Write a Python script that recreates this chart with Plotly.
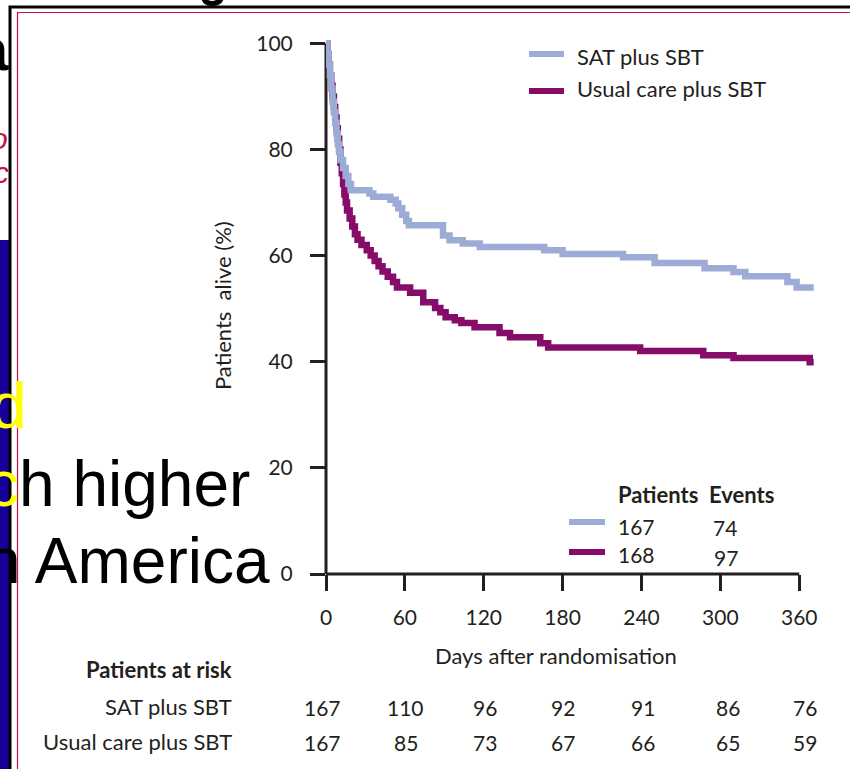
import plotly.graph_objects as go

# ---------------- data ----------------
sat_days = [0, 1, 2, 3, 4, 5, 6, 7, 8, 9, 10, 11, 13, 15, 17, 19, 33, 36, 49, 53, 55, 58, 61, 63,
            89, 94, 104, 117, 166, 180, 226, 250, 288, 310, 319, 351, 358, 371]
sat_surv = [100, 98, 96, 94, 91.5, 89, 87, 85, 83, 81, 79.5, 78, 76.5, 75, 73.5, 72.3, 71.7, 71.1, 70.5, 69.8, 68.9, 67.7, 66.5, 65.7,
            63.8, 62.9, 62.3, 61.6, 61.0, 60.3, 59.7, 58.6, 57.6, 56.9, 56.1, 55.0, 54.0, 54.0]

uc_days = [0, 1, 2, 3, 4, 5, 6, 7, 8, 9, 10, 11, 12, 13, 14, 15, 16, 18, 20, 22, 24, 27, 31, 34, 37, 40, 43, 47, 51, 54,
           64, 74, 83, 87, 91, 98, 103, 113, 132, 140, 163, 169, 239, 287, 310, 368, 371]
uc_surv = [100, 98, 96, 94, 92, 90, 88, 86, 84, 82, 80, 77.5, 75.5, 73.5, 71.5, 70, 68.5, 67, 65.5, 64, 63, 62, 61, 60, 59, 58, 57, 56, 55, 54,
           53, 51.2, 50.1, 49.3, 48.4, 47.8, 47.3, 46.5, 45.4, 44.6, 43.5, 42.7, 42.0, 41.2, 40.7, 39.9, 39.9]

x_ticks = [0, 60, 120, 180, 240, 300, 360]
y_ticks = [0, 20, 40, 60, 80, 100]

series_names = ["SAT plus SBT", "Usual care plus SBT"]
n_patients = [167, 168]
n_events = [74, 97]
at_risk_sat = [167, 110, 96, 92, 91, 86, 76]
at_risk_uc = [167, 85, 73, 67, 66, 65, 59]

# ---------------- style ----------------
BLUE = "#9dacd7"
PURPLE = "#860c69"
INK = "#231f20"
FONT = "Lato"
NAVY = "#17009a"
CRIMSON = "#c8103c"

FW, FH = 850, 769
ML, MR, MT, MB = 326, 35, 38, 195
PW = FW - ML - MR
PH = FH - MT - MB

# small horizontal offsets of the at-risk columns (pixels), as typeset in the original
col_shift = [-4, 1, 1, 0, 2, 8, 6]


def px(x):
    return (x - ML) / PW


def py(y):
    return (FH - MB - y) / PH


fig = go.Figure()
fig.add_trace(go.Scatter(x=uc_days, y=uc_surv, mode="lines", line=dict(color=PURPLE, width=6.5, shape="hv"),
                         name=series_names[1], showlegend=False))
fig.add_trace(go.Scatter(x=sat_days, y=sat_surv, mode="lines", line=dict(color=BLUE, width=6.5, shape="hv"),
                         name=series_names[0], showlegend=False))

shapes = []
# slide background strip and picture frame
shapes.append(dict(type="rect", xref="paper", yref="paper", x0=px(0), x1=px(9.5), y0=py(769), y1=py(240),
                   fillcolor=NAVY, line=dict(width=0), layer="below"))
shapes.append(dict(type="path", xref="paper", yref="paper",
                   path=f"M {px(10)} {py(775)} L {px(10)} {py(7)} L {px(860)} {py(7)}",
                   line=dict(color="black", width=3), layer="below"))
shapes.append(dict(type="path", xref="paper", yref="paper",
                   path=f"M {px(17.5)} {py(775)} L {px(17.5)} {py(12.5)} L {px(860)} {py(12.5)}",
                   line=dict(color=CRIMSON, width=1.2), layer="below"))
# bottom of a slide-title letter peeking above the picture
shapes.append(dict(type="path", xref="paper", yref="paper",
                   path=(f"M {px(201)} {py(-2)} Q {px(203)} {py(6)} {px(212)} {py(6)} "
                         f"Q {px(222)} {py(6)} {px(224)} {py(-2)} L {px(218)} {py(-2)} "
                         f"Q {px(216)} {py(1)} {px(212)} {py(1)} Q {px(208)} {py(1)} {px(207)} {py(-2)} Z"),
                   fillcolor="black", line=dict(width=0), layer="below"))
# axis lines
shapes.append(dict(type="line", xref="x", yref="paper", x0=0, x1=360, y0=0, y1=0,
                   line=dict(color=INK, width=3), layer="above"))
shapes.append(dict(type="line", xref="paper", yref="y", x0=0, x1=0, y0=0, y1=100,
                   line=dict(color=INK, width=3), layer="below"))

# legend samples
colors = [BLUE, PURPLE]
for i, yy in enumerate([54, 91]):
    shapes.append(dict(type="line", xref="paper", yref="paper", x0=px(529), x1=px(564), y0=py(yy), y1=py(yy),
                       line=dict(color=colors[i], width=6)))
for i, yy in enumerate([522, 552]):
    shapes.append(dict(type="line", xref="paper", yref="paper", x0=px(569), x1=px(605), y0=py(yy), y1=py(yy),
                       line=dict(color=colors[i], width=6)))

ann = []


def text(x, y, s, size=20, color=INK, xanchor="left", bold=False, family=FONT, angle=0, italic=False):
    if bold:
        s = f"<b>{s}</b>"
    if italic:
        s = f"<i>{s}</i>"
    ann.append(dict(x=px(x), y=py(y), xref="paper", yref="paper", text=s, showarrow=False,
                    xanchor=xanchor, yanchor="middle", textangle=angle,
                    font=dict(family=family, size=size, color=color)))


# legend texts
text(575, 57, series_names[0], size=22)
text(575, 88, series_names[1], size=22)
text(616, 494, "Patients&nbsp; Events", size=22, bold=True)
text(616, 526, str(n_patients[0]), size=21)
text(616, 554, str(n_patients[1]), size=21)
text(711, 527, str(n_events[0]), size=21)
text(712, 557, str(n_events[1]), size=21)

# axis titles
ann.append(dict(x=px(222), y=py(306), xref="paper", yref="paper", text="Patients&nbsp; alive (%)", showarrow=False,
                textangle=-90, xanchor="center", yanchor="middle", font=dict(family=FONT, size=22, color=INK)))
text(556, 655, "Days after randomisation", size=22, xanchor="center")

# at-risk table
text(234, 669, "Patients at risk", size=22, bold=True, xanchor="right")
text(234, 706, series_names[0], size=22, xanchor="right")
text(234, 741, series_names[1], size=22, xanchor="right")
for d, a, b, sh in zip(x_ticks, at_risk_sat, at_risk_uc, col_shift):
    ann.append(dict(x=d, y=py(707), xref="x", yref="paper", text=str(a), showarrow=False, xanchor="center",
                    yanchor="middle", xshift=sh, font=dict(family=FONT, size=21, color=INK)))
    ann.append(dict(x=d, y=py(742), xref="x", yref="paper", text=str(b), showarrow=False, xanchor="center",
                    yanchor="middle", xshift=sh, font=dict(family=FONT, size=21, color=INK)))

# slide text fragments around the picture
SL = "Liberation Sans"
text(11, 50, "a", size=60, color="black", xanchor="right", family=SL, bold=True)
text(10, 138, "o", size=30, color=CRIMSON, xanchor="right", family=SL, italic=True)
text(11, 172, "ic", size=30, color=CRIMSON, xanchor="right", family=SL, italic=True)
text(29, 406, "d", size=64, color="#ffff00", xanchor="right", family=SL)
text(252, 484, "<span style='color:#ffff00'>c</span>h higher", size=64, color="black", xanchor="right", family=SL)
text(272, 561, "n America", size=64, color="black", xanchor="right", family=SL)

fig.update_layout(
    width=FW, height=FH,
    margin=dict(l=ML, r=MR, t=MT, b=MB),
    paper_bgcolor="white", plot_bgcolor="white",
    shapes=shapes, annotations=ann,
    xaxis=dict(range=[0, 372], tickvals=x_ticks, ticktext=[str(v) for v in x_ticks], showgrid=False,
               zeroline=False, showline=False, ticks="outside", ticklen=16, tickwidth=3, tickcolor=INK,
               tickfont=dict(family=FONT, size=21, color=INK), ticklabelstandoff=9),
    yaxis=dict(range=[0, 101], tickvals=y_ticks, ticktext=[str(v) for v in y_ticks], showgrid=False,
               zeroline=False, showline=False, ticks="outside", ticklen=15, tickwidth=3, tickcolor=INK,
               tickfont=dict(family=FONT, size=21, color=INK), ticklabelstandoff=13),
    showlegend=False,
)

fig.write_html("out.html")
